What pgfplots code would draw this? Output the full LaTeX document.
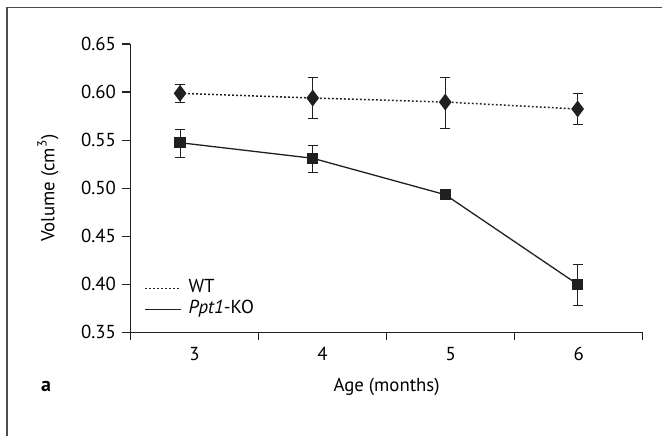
\documentclass[border=0pt]{standalone}
\usepackage{fontspec}
\setmainfont{PT Sans}
\usepackage{pgfplots}
\usepackage{pgfplotstable}
\pgfplotsset{compat=1.18}
\definecolor{ink}{HTML}{231F20}

% mean, upper and lower error of brain volume
\pgfplotstableread{
x      y       ep      em
2.887  0.5987  0.0094  0.0094
3.923  0.5938  0.0215  0.0218
4.958  0.5896  0.0253  0.0277
5.992  0.5824  0.0163  0.0160
}\wt
\pgfplotstableread{
x      y       ep      em
2.887  0.5473  0.0139  0.0152
3.923  0.5311  0.0131  0.0143
4.958  0.4932  0.0020  0.0020
5.992  0.3999  0.0209  0.0225
}\ko

\begin{document}
\fontsize{9.4}{11}\selectfont
\begin{tikzpicture}
\useasboundingbox (-65.25pt,-51.35pt) rectangle (265.75pt,166.15pt);
\draw[line width=0.75pt, black!70] (-61.75pt,-52pt) -- (-61.75pt,162.5pt) -- (266pt,162.5pt);
\begin{axis}[
    at={(0pt,0pt)}, anchor=south west,
    scale only axis,
    width=256.1pt, height=144.15pt,
    xmin=2.5, xmax=6.5,
    ymin=0.35, ymax=0.65,
    axis lines=left,
    axis line style={-, line width=0.65pt, ink},
    tick align=outside,
    tick style={line width=0.6pt, ink},
    xtick={3,4,5,6},
    major x tick style={draw=none},
    minor xtick={2.5,3.5,4.5,5.5,6.5},
    minor tick length=3.85pt,
    ytick={0.35,0.40,0.45,0.50,0.55,0.60,0.65},
    major tick length=4pt,
    yticklabel style={/pgf/number format/.cd, fixed, fixed zerofill, precision=2},
    /pgf/number format/assume math mode=true,
    xlabel={Age (months)},
    ylabel={Volume (cm\textsuperscript{3})},
    xlabel style={at={(axis description cs:0.5,-0.1887)}, anchor=center},
    ylabel style={at={(axis description cs:-0.1611,0.5)}, anchor=center},
    legend style={at={(axis description cs:0.0264,0.1162)}, anchor=west,
        draw=none, fill=none, inner sep=0pt, row sep=2pt, column sep=3.35pt,
        nodes={inner sep=0pt, text height=6.2pt, text depth=2.3pt}},
    legend cell align=left,
    legend image code/.code={\draw[#1] (0pt,0pt) -- (18pt,0pt);},
    clip=false,
]
\addplot[ink, line width=0.75pt, dash pattern=on 0.9pt off 1.1pt,
    mark=diamond*, mark size=3.6pt, mark options={solid},
    error bars/.cd, y dir=both, y explicit,
    error bar style={solid, line width=0.5pt, ink},
    error mark options={rotate=90, mark size=2.5pt, line width=0.5pt, ink}]
    table[x=x, y=y, y error plus=ep, y error minus=em]{\wt};
\addlegendentry{WT}
\addplot[ink, line width=0.65pt,
    mark=square*, mark size=2.5pt,
    error bars/.cd, y dir=both, y explicit,
    error bar style={line width=0.5pt, ink},
    error mark options={rotate=90, mark size=2.5pt, line width=0.5pt, ink}]
    table[x=x, y=y, y error plus=ep, y error minus=em]{\ko};
\addlegendentry{\textit{Ppt1}-KO}
\end{axis}
\node[font=\bfseries\fontsize{10}{11}\selectfont] at (-42.25pt,-27.2pt) {a};
\end{tikzpicture}
\end{document}
